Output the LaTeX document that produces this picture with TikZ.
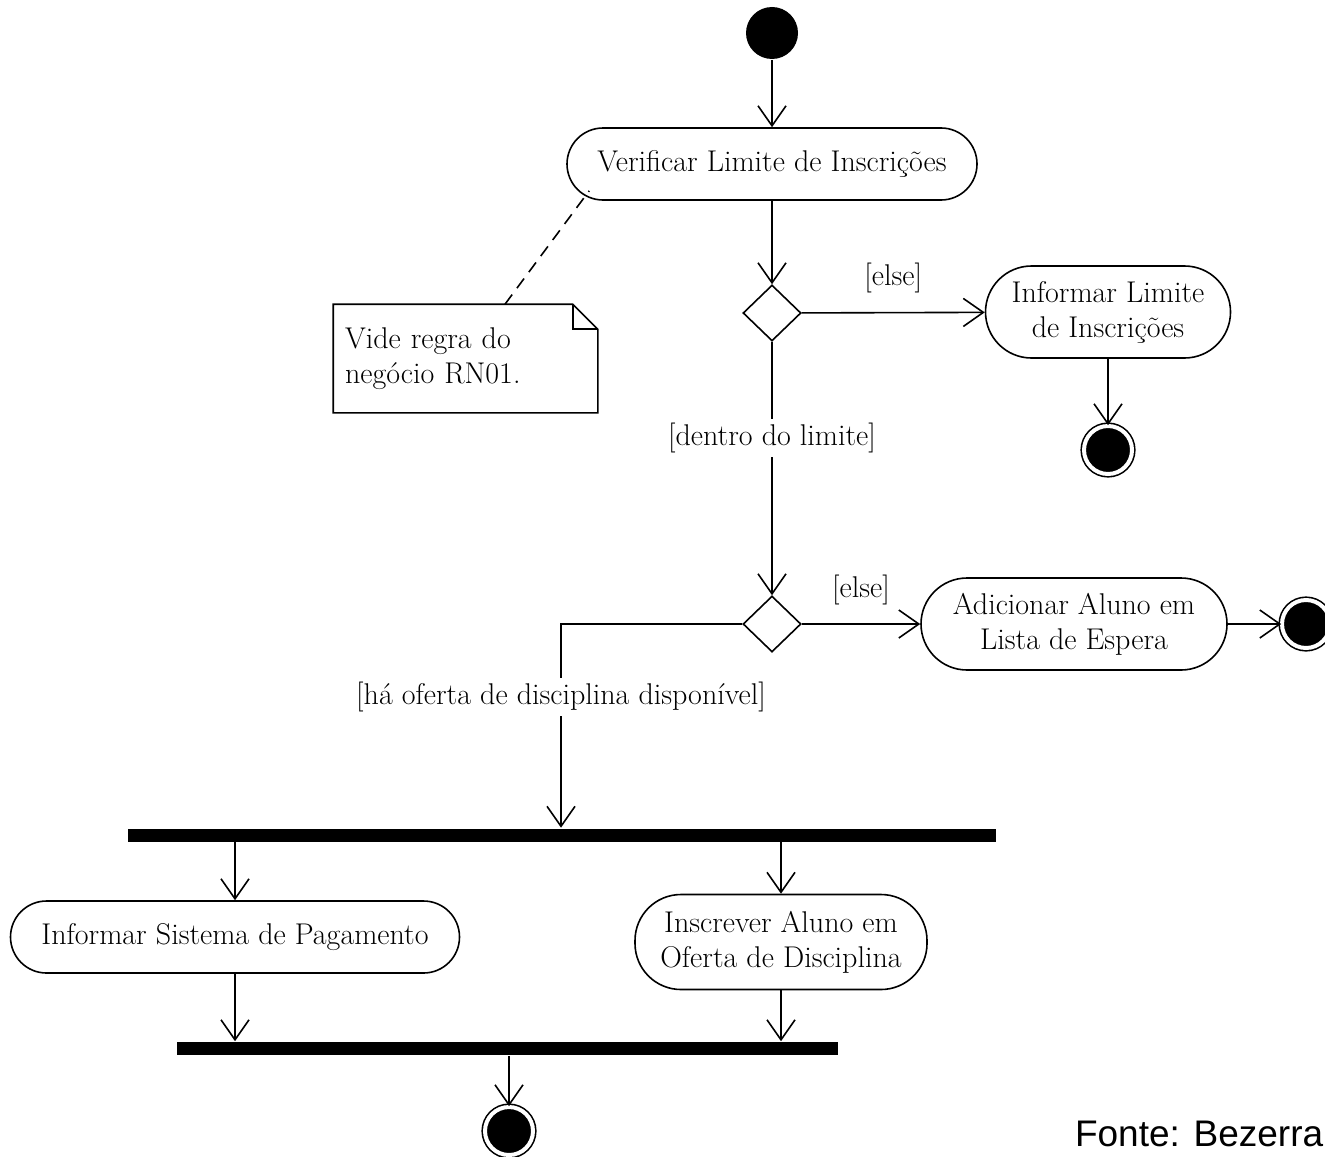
\documentclass[tikz,border=0pt]{standalone}
\usepackage{fontspec}
\newfontfamily\fontefont{Liberation Sans}
\usetikzlibrary{arrows.meta,shapes,positioning}

\begin{document}
\begin{tikzpicture}[x=0.5pt,y=-0.5pt,line width=0.8pt,font=\fontsize{15}{17.5}\selectfont]
\tikzstyle{action}=[draw,rectangle,rounded corners=18pt,align=center,minimum height=36pt,inner sep=3pt]
\tikzstyle{decision}=[draw,diamond,minimum width=29pt,minimum height=28pt,inner sep=0pt]
\tikzstyle{bar}=[fill=black,rectangle,minimum height=6.5pt,inner sep=0pt]
\tikzstyle{startnode}=[circle,fill=black,minimum size=26pt,inner sep=0pt]
\tikzstyle{endnode}=[circle,draw,fill=black,double=white,double distance=2pt,minimum size=24pt,inner sep=0pt]
\tikzstyle{notebox}=[align=left,text width=120.5pt,minimum height=53.5pt,inner sep=5.5pt]
\tikzstyle{flow}=[-{Straight Barb[length=10pt,width=14pt]}]
\tikzstyle{guard}=[fill=white,inner sep=2pt]
\useasboundingbox (0,0) rectangle (1325,1156);

% nodes
\node[startnode] (start) at (772,33) {};
\node[action,minimum width=205pt] (verif) at (772,164) {Verificar Limite de Inscrições};
\node[decision] (d1) at (772,313) {};
\node[action,minimum width=122.5pt,minimum height=46pt,rounded corners=23pt] (limite) at (1108,312) {Informar Limite\\de Inscrições};
\node[endnode] (end1) at (1108,450) {};
\node[notebox] (note) at (465.5,358.5) {Vide regra do\\negócio RN01.};
\node[decision] (d2) at (772,624) {};
\node[action,minimum width=153pt,minimum height=46pt,rounded corners=23pt] (espera) at (1074,624) {Adicionar Aluno em\\Lista de Espera};
\node[endnode] (end2) at (1306,624) {};
\coordinate (turn) at (561,624);
\node[bar,minimum width=434pt] (fork) at (562,835) {};
\node[action,minimum width=224.5pt] (pagto) at (235,937) {Informar Sistema de Pagamento};
\node[action,minimum width=146pt,minimum height=47.5pt,rounded corners=23pt] (inscr) at (781,942) {Inscrever Aluno em\\Oferta de Disciplina};
\node[bar,minimum width=330.5pt] (join) at (507.5,1048.5) {};
\node[endnode] (end3) at (509,1131) {};
\node[font=\fontefont\fontsize{18.5}{20}\selectfont,anchor=east,inner sep=0pt] (fonte) at (1324,1134) {Fonte: Bezerra};

% note outline
\draw (note.north west) -- ([xshift=-12.5pt]note.north east) -- ([yshift=-12.5pt]note.north east)
  -- (note.south east) -- (note.south west) -- cycle;
\draw ([xshift=-12.5pt]note.north east) |- ([yshift=-12.5pt]note.north east);
\draw[dash pattern=on 6pt off 4pt] ([xshift=19.75pt]note.north) -- ([xshift=11.5pt,yshift=5pt]verif.south west);

% flows
\draw[flow] (start) -- (verif);
\draw[flow] (verif) -- (d1);
\draw[flow] (d1) -- node[above=6pt]{[else]} (limite);
\draw[flow] (limite) -- (end1);
\draw[flow] (d1) -- node[guard,pos=0.38]{[dentro do limite]} (d2);
\draw[flow] (d2) -- node[above=6pt]{[else]} (espera);
\draw[flow] (espera) -- (end2);
\draw[flow] (d2.west) -- (turn) -- node[guard,pos=0.36]{[há oferta de disciplina disponível]} (turn |- fork.north);
\draw[flow] (fork.south -| pagto.north) -- (pagto);
\draw[flow] (fork.south -| inscr.north) -- (inscr);
\draw[flow] (pagto) -- (pagto.south |- join.north);
\draw[flow] (inscr) -- (inscr.south |- join.north);
\draw[flow] (join.south -| end3.north) -- (end3);
\end{tikzpicture}
\end{document}
